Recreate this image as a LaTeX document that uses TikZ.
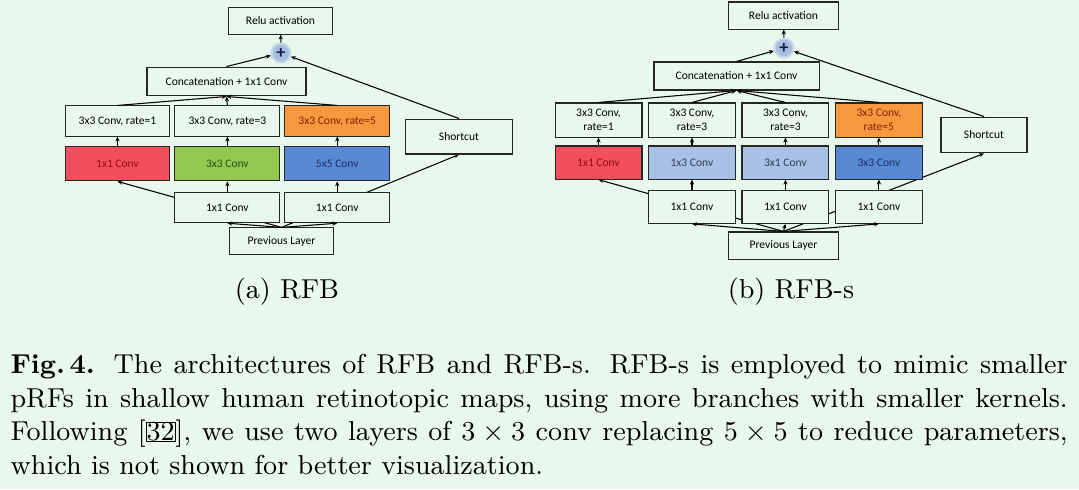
\documentclass[tikz,border=0pt]{standalone}
\usepackage{fontspec}
\newfontfamily\boxfont{Carlito}
\usetikzlibrary{arrows.meta,positioning,backgrounds}
\definecolor{cBg}{RGB}{232,248,237}
\definecolor{cRed}{RGB}{242,78,92}
\definecolor{cRedT}{RGB}{150,10,20}
\definecolor{cGreen}{RGB}{146,200,80}
\definecolor{cGreenT}{RGB}{40,80,20}
\definecolor{cBlue}{RGB}{88,138,212}
\definecolor{cBlueT}{RGB}{25,45,100}
\definecolor{cLBlue}{RGB}{168,194,230}
\definecolor{cLBlueT}{RGB}{50,60,90}
\definecolor{cOrange}{RGB}{247,152,62}
\definecolor{cOrangeT}{RGB}{140,30,10}
\definecolor{cSum}{RGB}{168,190,222}
\definecolor{cSumT}{RGB}{20,30,80}
\tikzset{
  blk/.style={draw=black!85, fill=cBg, line width=0.35pt, minimum height=9.9pt,
              align=center, inner sep=0.5pt, font=\boxfont\fontsize{3.8}{4.7}\selectfont},
  blka/.style={blk, minimum width=34.5pt},
  blkb/.style={blk, minimum width=28.6pt},
  redc/.style={fill=cRed, text=cRedT},
  grnc/.style={fill=cGreen, text=cGreenT},
  bluc/.style={fill=cBlue, text=cBlueT},
  lblc/.style={fill=cLBlue, text=cLBlueT},
  orgc/.style={fill=cOrange, text=cOrangeT},
  sumc/.style={circle, fill=cSum, draw=cSum!55!cBg, line width=0.7pt, minimum size=6.2pt,
               inner sep=0pt, text=cSumT, font=\boxfont\bfseries\fontsize{6}{6}\selectfont},
  arr/.style={-{Stealth[length=1.6pt,width=1.4pt]}, line width=0.35pt},
  subcap/.style={anchor=base, font=\small},
}

\begin{document}
\begin{tikzpicture}[x=0.329pt, y=-0.329pt]
  \useasboundingbox (0,0) rectangle (1079,489);

  % (a) RFB
  \node[blka, minimum height=8.6pt] (ra) at (280.5,21) {Relu activation};
  \node[sumc] (sa) at (281,53) {+};
  \node[blk, minimum width=52.3pt, minimum height=9.5pt] (ca) at (226.5,81.5) {Concatenation + 1x1 Conv};
  \node[blka] (d1a) at (117.5,121) {3x3 Conv, rate=1};
  \node[blka, right=1.3pt of d1a] (d2a) {3x3 Conv, rate=3};
  \node[blka, orgc, right=1.3pt of d2a] (d3a) {3x3 Conv, rate=5};
  \node[blka, redc, minimum height=11.2pt, below=3.2pt of d1a] (k1a) {1x1 Conv};
  \node[blka, grnc, minimum height=11.2pt, below=3.2pt of d2a] (k2a) {3x3 Conv};
  \node[blka, bluc, minimum height=11.2pt, below=3.2pt of d3a] (k3a) {5x5 Conv};
  \node[blka, below=3.5pt of k2a] (p2a) {1x1 Conv};
  \node[blka, below=3.5pt of k3a] (p3a) {1x1 Conv};
  \node[blka, minimum height=8.6pt] (pla) at (281.5,241) {Previous Layer};
  \node[blk, minimum width=34.9pt, minimum height=11.5pt] (sha) at (459,136.5) {Shortcut};

  \draw[arr] (pla.north) -- (p2a.south); \draw[arr] (pla.north) -- (p3a.south);
  \draw[arr] (p2a) -- (k2a); \draw[arr] (p3a) -- (k3a);
  \draw[arr] (k1a) -- (d1a); \draw[arr] (k2a) -- (d2a); \draw[arr] (k3a) -- (d3a);
  \draw[arr] (d1a.north) -- (ca.south);
  \draw[arr] (d2a.north) -- (ca.south);
  \draw[arr] (d3a.north) -- (ca.south);
  \draw[arr] (ca.north) -- (sa);
  \draw[arr] (sha.north) -- (sa);
  \draw[arr] (sa) -- (ra);
  \node[subcap] (la) at (287,298) {(a) RFB};

  % (b) RFB-s
  \node[blk, minimum width=35.9pt, minimum height=8.9pt] (rb) at (783.5,15.5) {Relu activation};
  \node[sumc] (sb) at (784,48) {+};
  \node[blk, minimum width=54.3pt, minimum height=9.2pt] (cb) at (736.5,76) {Concatenation + 1x1 Conv};
  \node[blkb, minimum height=11.2pt] (d1b) at (598.5,120) {3x3 Conv,\\rate=1};
  \node[blkb, minimum height=11.2pt, right=1.8pt of d1b] (d2b) {3x3 Conv,\\rate=3};
  \node[blkb, minimum height=11.2pt, right=1.8pt of d2b] (d3b) {3x3 Conv,\\rate=3};
  \node[blkb, orgc, minimum height=11.2pt, right=1.8pt of d3b] (d4b) {3x3 Conv,\\rate=5};
  \node[blkb, redc, minimum height=10.9pt, below=2.6pt of d1b] (k1b) {1x1 Conv};
  \node[blkb, lblc, minimum height=10.9pt, below=2.6pt of d2b] (k2b) {1x3 Conv};
  \node[blkb, lblc, minimum height=10.9pt, below=2.6pt of d3b] (k3b) {3x1 Conv};
  \node[blkb, bluc, minimum height=10.9pt, below=2.6pt of d4b] (k4b) {3x3 Conv};
  \node[blkb, minimum height=10.9pt, below=3.3pt of k2b] (p2b) {1x1 Conv};
  \node[blkb, minimum height=10.9pt, below=3.3pt of k3b] (p3b) {1x1 Conv};
  \node[blkb, minimum height=10.9pt, below=3.3pt of k4b] (p4b) {1x1 Conv};
  \node[blk, minimum width=35.9pt, minimum height=8.9pt] (plb) at (783.5,245.5) {Previous Layer};
  \node[blk, minimum width=28.3pt, minimum height=11.8pt] (shb) at (984,135) {Shortcut};

  \draw[arr] (plb.north) -- (p2b.south); \draw[arr] (plb.north) -- (p3b.south);
  \draw[arr] (plb.north) -- (p4b.south);
  \draw[arr] (p2b) -- (k2b); \draw[arr] (p3b) -- (k3b); \draw[arr] (p4b) -- (k4b);
  \draw[arr] (k1b) -- (d1b); \draw[arr] (k2b) -- (d2b);
  \draw[arr] (k3b) -- (d3b); \draw[arr] (k4b) -- (d4b);
  \foreach \i in {1,...,4} \draw[arr] (d\i b.north) -- (cb.south);
  \draw[arr] (cb.north) -- (sb);
  \draw[arr] (shb.north) -- (sb);
  \draw[arr] (sb) -- (rb);
  \node[subcap] (lb) at (791,298) {(b) RFB-s};

  % caption
  \node[anchor=north west, inner sep=0pt, text width=347.8pt, align=justify, font=\small] (cap) at (10,354)
    {\textbf{Fig.\,4.} The architectures of RFB and RFB-s. RFB-s is employed to mimic smaller pRFs in shallow human retinotopic maps, using more branches with smaller kernels. Following [{\fboxsep=0pt\fboxrule=0.3pt\fbox{32}}], we use two layers of $3\times3$ conv replacing $5\times5$ to reduce parameters, which is not shown for better visualization.};

  % lines running behind the 1x1 boxes
  \begin{scope}[on background layer]
    \fill[cBg] (0,0) rectangle (1079,489);
    \draw[arr] (pla.north) -- (k1a.south);
    \draw[arr] (pla.north) -- (sha.south);
    \draw[arr] (plb.north) -- (k1b.south);
    \draw[arr] (plb.north) -- (shb.south);
  \end{scope}
\end{tikzpicture}
\end{document}
